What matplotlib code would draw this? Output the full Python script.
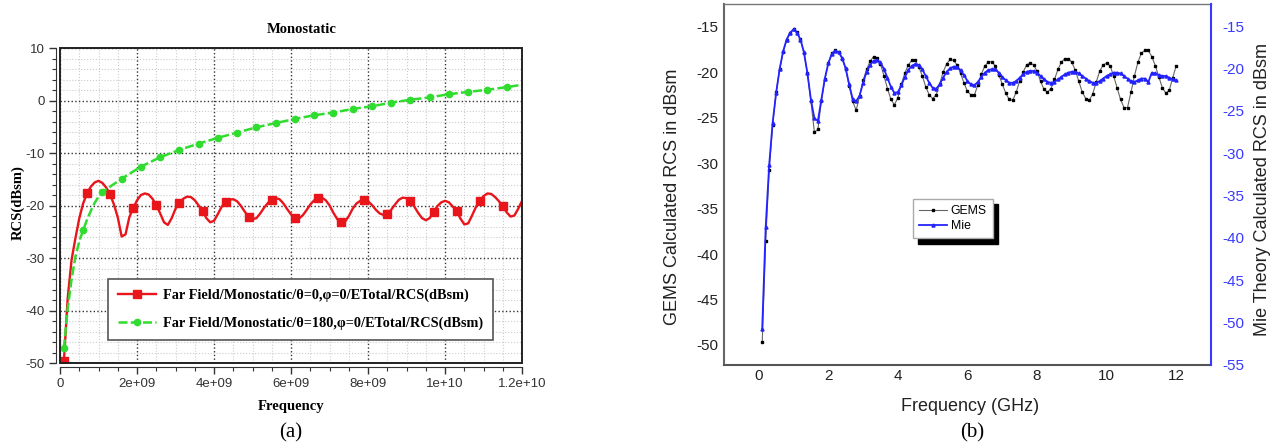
import numpy as np
import matplotlib.pyplot as plt
from matplotlib.patches import Rectangle
from matplotlib.ticker import MultipleLocator, FuncFormatter

plt.rcParams['axes.unicode_minus'] = False

SERIF = 'Liberation Serif'
SANS = 'Liberation Sans'

# ---- (a) HFSS far field monostatic RCS, GHz / dBsm ----
freq_a = np.round(np.arange(1, 121) * 0.1, 1)
rcs_theta0 = [
    -49.6, -37.5, -30.3, -26.2, -22.4, -19.6, -17.7, -16.4, -15.6, -15.3,
    -15.7, -16.6, -17.9, -19.8, -22.3, -25.9, -25.5, -22.2, -20.5, -19.0,
    -18.0, -17.7, -17.9, -18.7, -19.9, -21.5, -23.2, -23.7, -22.4, -20.6,
    -19.5, -18.7, -18.3, -18.4, -19.0, -20.0, -21.1, -22.4, -23.2, -22.9,
    -21.6, -20.2, -19.4, -18.9, -18.8, -19.2, -20.1, -21.2, -22.2, -22.6,
    -22.4, -21.5, -20.4, -19.5, -18.9, -18.6, -18.8, -19.6, -20.7, -21.7,
    -22.3, -22.5, -21.9, -20.9, -19.8, -19.0, -18.6, -18.5, -19.0, -20.0,
    -21.4, -22.6, -23.2, -23.1, -22.0, -20.6, -19.6, -19.1, -18.9, -19.2,
    -19.9, -20.8, -21.5, -21.8, -21.6, -20.8, -19.8, -18.9, -18.5, -18.6,
    -19.2, -20.2, -21.4, -22.4, -22.8, -22.4, -21.3, -20.1, -19.4, -19.1,
    -19.4, -20.2, -21.1, -22.5, -23.6, -23.4, -21.9, -20.3, -19.1, -18.2,
    -17.7, -17.8, -18.4, -19.2, -20.1, -21.3, -22.1, -21.9, -20.6, -19.1,
]

freq_a180 = [0.1, 0.2, 0.3, 0.4, 0.5, 0.6, 0.7, 0.8, 0.9, 1.0,
             1.1, 1.6, 2.1, 2.6, 3.1, 3.6, 4.1, 4.6, 5.1, 5.6, 6.1,
             6.6, 7.1, 7.6, 8.1, 8.6, 9.1, 9.6, 10.1, 10.6, 11.1, 11.6, 12.0]
rcs_theta180 = [-47.2, -39.5, -34.0, -29.7, -26.8, -24.7, -22.7, -21.0, -19.5, -18.3,
                -17.4, -14.9, -12.6, -10.8, -9.4, -8.2, -7.1, -6.1, -5.1, -4.3, -3.5,
                -2.8, -2.3, -1.6, -1.1, -0.4, 0.15, 0.6, 1.2, 1.65, 2.05, 2.55, 3.0]

label_theta0 = 'Far Field/Monostatic/θ=0,φ=0/ETotal/RCS(dBsm)'
label_theta180 = 'Far Field/Monostatic/θ=180,φ=0/ETotal/RCS(dBsm)'

# ---- (b) GEMS vs Mie theory, GHz / dBsm ----
freq_b = np.round(np.arange(1, 121) * 0.1, 1)
rcs_gems = [
    -49.7, -38.6, -30.8, -25.8, -22.2, -19.7, -17.8, -16.5, -15.7, -15.3,
    -15.6, -16.4, -17.9, -20.1, -23.2, -26.6, -26.3, -23.2, -20.8, -19.0,
    -17.9, -17.6, -17.8, -18.5, -19.7, -21.5, -23.2, -24.2, -22.6, -20.9,
    -19.7, -18.8, -18.3, -18.4, -19.1, -20.4, -21.8, -23.0, -23.6, -22.8,
    -21.3, -20.1, -19.2, -18.7, -18.7, -19.4, -20.4, -21.6, -22.5, -22.9,
    -22.5, -21.3, -20.0, -19.1, -18.6, -18.7, -19.2, -20.1, -21.2, -22.1,
    -22.5, -22.5, -21.4, -20.2, -19.3, -18.9, -18.85, -19.3, -20.3, -21.3,
    -22.3, -23.0, -23.1, -22.2, -21.0, -20.0, -19.2, -19.0, -19.2, -19.9,
    -21.0, -21.9, -22.2, -21.8, -20.8, -19.7, -18.9, -18.5, -18.5, -18.9,
    -19.8, -21.0, -22.2, -22.9, -23.1, -22.4, -21.1, -19.9, -19.2, -19.0,
    -19.3, -20.4, -21.7, -23.0, -23.9, -23.9, -22.2, -20.4, -18.9, -17.9,
    -17.6, -17.6, -18.3, -19.3, -20.5, -21.7, -22.3, -22.0, -20.6, -19.3,
]
rcs_mie = [
    -50.7, -38.7, -31.4, -26.4, -22.9, -20.1, -18.0, -16.6, -15.8, -15.4,
    -15.8, -16.6, -18.1, -20.6, -23.7, -25.9, -26.2, -23.7, -21.2, -19.4,
    -18.3, -17.9, -18.1, -18.8, -20.0, -21.9, -23.6, -23.9, -23.2, -21.7,
    -20.4, -19.6, -19.1, -19.0, -19.3, -20.1, -21.1, -22.2, -22.9, -22.8,
    -22.0, -21.0, -20.2, -19.7, -19.5, -19.6, -20.1, -20.9, -21.7, -22.3,
    -22.4, -21.9, -21.1, -20.4, -20.0, -19.8, -19.8, -20.2, -20.8, -21.5,
    -21.9, -22.0, -21.6, -21.0, -20.5, -20.2, -20.1, -20.1, -20.5, -21.0,
    -21.4, -21.7, -21.7, -21.5, -21.1, -20.7, -20.4, -20.3, -20.3, -20.5,
    -20.9, -21.3, -21.6, -21.7, -21.6, -21.3, -21.0, -20.7, -20.5, -20.4,
    -20.4, -20.6, -20.9, -21.2, -21.5, -21.7, -21.7, -21.5, -21.2, -20.9,
    -20.7, -20.5, -20.5, -20.6, -20.9, -21.2, -21.5, -21.6, -21.4, -21.2,
    -21.2, -21.6, -20.5, -20.6, -20.8, -20.9, -20.9, -21.1, -21.3, -21.4,
]

fig = plt.figure(figsize=(12.75, 4.48), dpi=100)

# ---------------- panel (a) ----------------
ax1 = fig.add_axes([0.0471, 0.1897, 0.3624, 0.7031])
green_marks = [0, 5] + list(range(10, len(freq_a180) - 1))
ax1.plot(freq_a * 1e9, rcs_theta0, color='#e8151b', lw=1.7, marker='s', ms=6.3,
         markevery=6, label=label_theta0, zorder=3)
ax1.plot(np.array(freq_a180) * 1e9, rcs_theta180, color='#2fdc2f', lw=1.8,
         ls=(0, (3.6, 1.3)), marker='o', ms=4.5, markevery=green_marks,
         label=label_theta180, zorder=3)

ax1.set_xlim(0, 1.2e10)
ax1.set_ylim(-50, 10)
ax1.xaxis.set_major_locator(MultipleLocator(2e9))
ax1.xaxis.set_minor_locator(MultipleLocator(5e8))
ax1.yaxis.set_major_locator(MultipleLocator(10))
ax1.yaxis.set_minor_locator(MultipleLocator(2))
ax1.xaxis.set_major_formatter(FuncFormatter(lambda v, p: '%g' % v))
ax1.grid(which='minor', ls=':', color='#cccccc', lw=0.8)
ax1.grid(which='major', ls=':', color='#333333', lw=1.0)
ax1.set_axisbelow(True)

for side in ('left', 'bottom'):
    ax1.spines[side].set_position(('outward', 3))
    ax1.spines[side].set_color('#333333')
for side in ('top', 'right'):
    ax1.spines[side].set_visible(False)
ax1.add_patch(Rectangle((0, 0), 1, 1, transform=ax1.transAxes, fill=False,
                        ec='#222222', lw=1.4, clip_on=False, zorder=4))
ax1.tick_params(which='major', direction='out', length=5, width=1, color='#333333',
                labelsize=9.5, labelcolor='#333333', pad=3)
ax1.tick_params(which='minor', direction='out', length=3, width=0.8, color='#333333')
for t in ax1.get_xticklabels() + ax1.get_yticklabels():
    t.set_family(SANS)

ax1.text(0.522, 1.06, 'Monostatic', transform=ax1.transAxes, ha='center', va='center',
         family=SERIF, weight='bold', fontsize=10.5)
ax1.set_xlabel('Frequency', family=SERIF, weight='bold', fontsize=10.5)
ax1.xaxis.set_label_coords(0.5, -0.117)
ax1.set_ylabel('RCS(dBsm)', family=SERIF, weight='bold', fontsize=10.5, va='center')
ax1.yaxis.set_label_coords(-0.091, 0.508)

leg1 = ax1.legend(loc='center', bbox_to_anchor=(0.52, 0.17), numpoints=1,
                  prop={'family': SERIF, 'weight': 'bold', 'size': 10.3},
                  handlelength=2.65, handletextpad=0.5, labelspacing=1.0,
                  borderpad=0.7, fancybox=False, framealpha=1,
                  edgecolor='#555555')
leg1.get_frame().set_linewidth(1.2)
leg1.set_zorder(5)

# ---------------- panel (b) ----------------
ax2 = fig.add_axes([0.5678, 0.1853, 0.382, 0.8058])
ax3 = ax2.twinx()
l_gems, = ax2.plot(freq_b, rcs_gems, color='#666666', lw=0.8, marker='s', ms=1.8,
                   mfc='black', mec='black', label='GEMS')
l_mie, = ax3.plot(freq_b, rcs_mie, color='#2323ff', lw=1.3, marker='^', ms=2.2,
                  label='Mie')

ax2.set_xlim(-1, 13)
ax2.set_ylim(-52.2, -12.5)
ax3.set_ylim(-55, -12.4)
ax2.set_xticks(np.arange(0, 13, 2))
ax2.set_yticks(np.arange(-50, -14, 5))
ax3.set_yticks(np.arange(-55, -14, 5))

ax2.tick_params(length=0, labelsize=11, labelcolor='#222222', pad=4)
ax2.tick_params(axis='x', pad=3)
ax3.tick_params(length=0, labelsize=11, labelcolor='#3a3aff', pad=8)
for t in ax2.get_xticklabels() + ax2.get_yticklabels() + ax3.get_yticklabels():
    t.set_family(SANS)

ax2.spines['left'].set_color('#666666')
ax2.spines['left'].set_linewidth(1.5)
ax2.spines['bottom'].set_color('#555555')
ax2.spines['bottom'].set_linewidth(1.5)
ax2.spines['top'].set_color('#777777')
ax2.spines['top'].set_linewidth(1.0)
ax2.spines['right'].set_visible(False)
for side in ('left', 'bottom', 'top'):
    ax3.spines[side].set_visible(False)
ax3.spines['right'].set_color('#3a3aff')
ax3.spines['right'].set_linewidth(1.5)

ax2.set_xlabel('Frequency (GHz)', family=SANS, fontsize=13, color='#222222')
ax2.xaxis.set_label_coords(0.505, -0.091)
ax2.set_ylabel('GEMS Calculated RCS in dBsm', family=SANS, fontsize=13,
               color='#222222', va='center')
ax2.yaxis.set_label_coords(-0.105, 0.465)
ax3.set_ylabel('Mie Theory Calculated RCS in dBsm', family=SANS, fontsize=13,
               color='#222222', va='center')
ax3.yaxis.set_label_coords(1.106, 0.485)

leg2 = ax3.legend([l_gems, l_mie], ['GEMS', 'Mie'], loc='center',
                  bbox_to_anchor=(0.47, 0.406), numpoints=1,
                  prop={'family': SANS, 'size': 8.8}, handlelength=2.3,
                  handletextpad=0.3, labelspacing=0.25, borderpad=0.5,
                  fancybox=False, framealpha=1, edgecolor='#aaaaaa',
                  shadow={'color': 'black', 'alpha': 1, 'ox': 4, 'oy': -4})
leg2.get_frame().set_linewidth(1.0)

# captions
fig.text(291 / 1275, 1 - 433 / 448, '(a)', ha='center', va='center',
         family=SERIF, fontsize=15)
fig.text(972 / 1275, 1 - 433 / 448, '(b)', ha='center', va='center',
         family=SERIF, fontsize=15)

fig.savefig('out.png', dpi=100, facecolor='white')
